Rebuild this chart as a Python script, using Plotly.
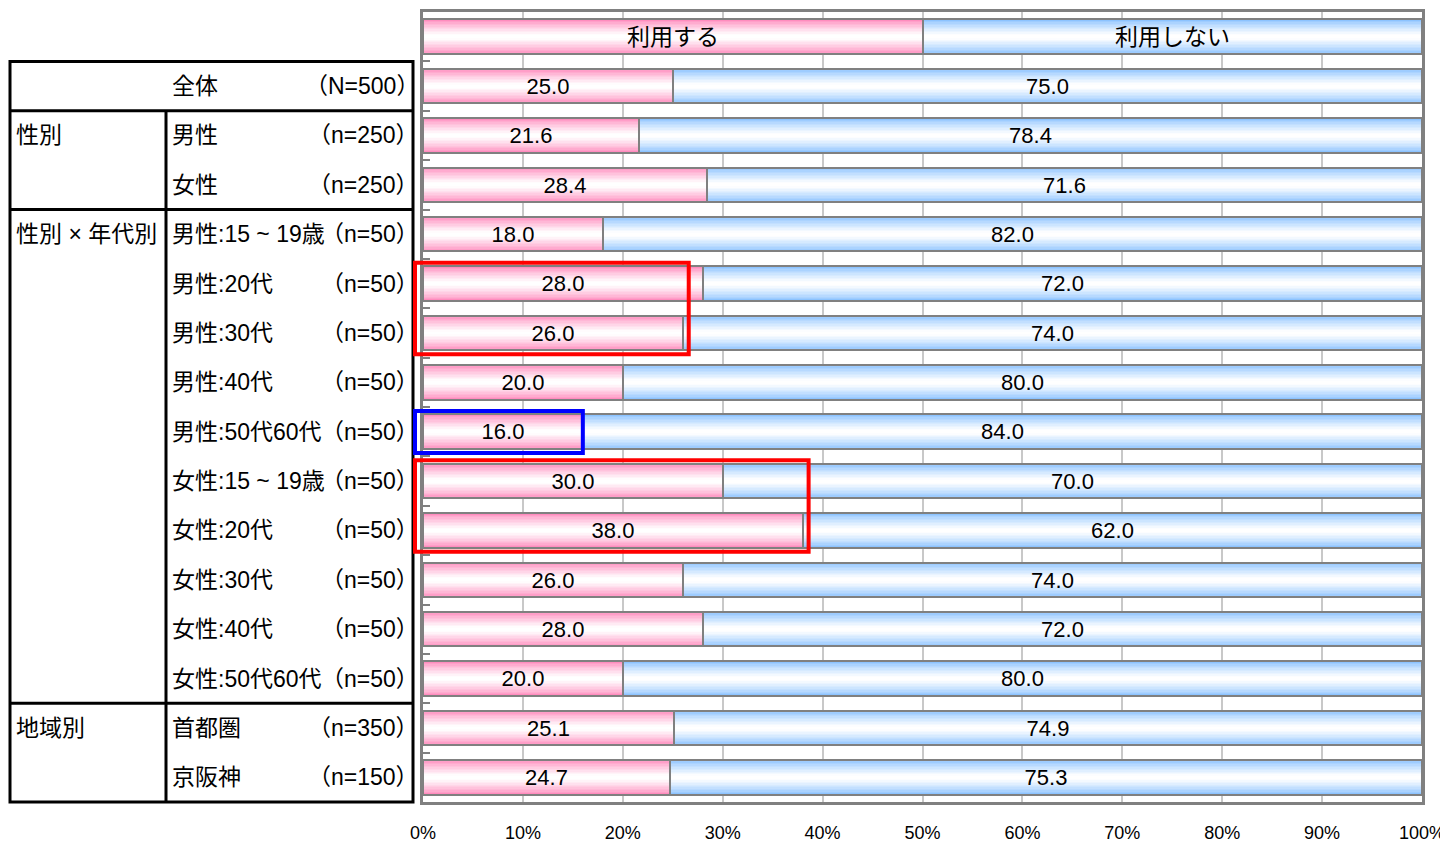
import plotly.graph_objects as go

# ---------------- data ----------------
header_labels = ["利用する", "利用しない"]
header_values = [50, 50]

group_labels = ["", "性別", "", "性別 × 年代別", "", "", "", "", "", "", "", "", "", "地域別", ""]
row_labels = ["全体", "男性", "女性",
              "男性:15 ~ 19歳", "男性:20代", "男性:30代", "男性:40代", "男性:50代60代",
              "女性:15 ~ 19歳", "女性:20代", "女性:30代", "女性:40代", "女性:50代60代",
              "首都圏", "京阪神"]
n_labels = ["（N=500）", "（n=250）", "（n=250）",
            "（n=50）", "（n=50）", "（n=50）", "（n=50）", "（n=50）",
            "（n=50）", "（n=50）", "（n=50）", "（n=50）", "（n=50）",
            "（n=350）", "（n=150）"]
use_vals = [25.0, 21.6, 28.4, 18.0, 28.0, 26.0, 20.0, 16.0, 30.0, 38.0, 26.0, 28.0, 20.0, 25.1, 24.7]
nouse_vals = [75.0, 78.4, 71.6, 82.0, 72.0, 74.0, 80.0, 84.0, 70.0, 62.0, 74.0, 72.0, 80.0, 74.9, 75.3]

# highlight boxes: (first row, last row, right edge in %, colour)
highlights = [("男性:20代", "男性:30代", 26.6, "#ff0000"),
              ("男性:50代60代", "男性:50代60代", 16.0, "#0000ff"),
              ("女性:15 ~ 19歳", "女性:20代", 38.6, "#ff0000")]

# ---------------- layout geometry (screen px, page has 8px body margin) ----------------
OFF = 8
W, H = 1448 - OFF, 844 - OFF
X0, X1 = 423 - OFF, 1422 - OFF
Y0, Y1 = 12 - OFF, 802 - OFF
xdom = [X0 / W, X1 / W]
ydom = [1 - Y1 / H, 1 - Y0 / H]
NROWS = 1 + len(row_labels)

def yp(i):
    return ydom[0] + (NROWS - 0.5 - i) / NROWS * (ydom[1] - ydom[0])

def xp_val(v):
    return xdom[0] + v / 100 * (xdom[1] - xdom[0])

def xpx(px):
    return (px - OFF) / W

FONT = "Liberation Sans, Arial, Noto Sans CJK JP"

use_x = [header_values[0]] + use_vals
nouse_x = [header_values[1]] + nouse_vals
all_y = list(range(NROWS))
use_text = [header_labels[0]] + [f"{v:.1f}" for v in use_vals]
nouse_text = [header_labels[1]] + [f"{v:.1f}" for v in nouse_vals]

fig = go.Figure()

def mix(c, t):
    return "rgb(%d,%d,%d)" % tuple(round(ch + (255 - ch) * t) for ch in c)

BW = 0.70
NL = 12
pink = (255, 140, 190)
blue = (140, 195, 255)

for base_list, xs, col in [(None, use_x, pink), (use_x, nouse_x, blue)]:
    for k in range(NL):
        w = BW * (1 - k / NL)
        t = min(1.0, (k / (NL - 1)) ** 0.8 * 1.05)
        fig.add_trace(go.Bar(
            x=xs, y=all_y, base=base_list, orientation="h", width=w,
            marker=dict(color=mix(col, t), line=dict(width=0)),
            hoverinfo="skip", showlegend=False))

# outline + text layers
for base_list, xs, txt in [(None, use_x, use_text), (use_x, nouse_x, nouse_text)]:
    sizes = [23] + [22] * (NROWS - 1)
    fig.add_trace(go.Bar(
        x=xs, y=all_y, base=base_list, orientation="h", width=BW,
        marker=dict(color="rgba(0,0,0,0)", line=dict(width=2, color="#808080")),
        text=txt, textposition="inside", insidetextanchor="middle",
        textangle=0, constraintext="none",
        textfont=dict(size=sizes, color="black", family=FONT),
        hoverinfo="skip", showlegend=False))

fig.update_layout(
    width=W, height=H, margin=dict(l=0, r=0, t=0, b=0, autoexpand=False),
    paper_bgcolor="white", plot_bgcolor="white",
    barmode="overlay", bargap=0,
    font=dict(family=FONT, color="black"),
    xaxis=dict(domain=xdom, range=[0, 100], dtick=10, tick0=0,
               ticksuffix="%", showgrid=True, gridcolor="#c8c8c8", gridwidth=2,
               zeroline=False, showline=True, mirror=True, linecolor="#808080", linewidth=3,
               ticks="", tickfont=dict(size=18, color="black", family=FONT),
               ticklabelstandoff=12, ticklabeloverflow="allow",
               automargin=False, fixedrange=True),
    yaxis=dict(domain=ydom, range=[NROWS - 0.5, -0.5],
               tickmode="array", tickvals=[i + 0.5 for i in range(NROWS - 1)],
               ticks="inside", ticklen=7, tickwidth=2, tickcolor="#808080",
               showticklabels=False, showgrid=False, zeroline=False,
               showline=True, mirror=True, linecolor="#808080", linewidth=3,
               automargin=False, fixedrange=True),
)

shapes = []
LC = "black"
LW = 3
TL, TR, TM = 10, 413, 166
shapes.append(dict(type="rect", xref="paper", yref="paper",
                   x0=xpx(TL), x1=xpx(TR), y0=yp(NROWS - 0.5), y1=yp(0.5),
                   line=dict(color=LC, width=LW)))
shapes.append(dict(type="line", xref="paper", yref="paper",
                   x0=xpx(TM), x1=xpx(TM), y0=yp(NROWS - 0.5), y1=yp(1.5),
                   line=dict(color=LC, width=LW)))
for i, g in enumerate(group_labels):
    if g and i > 0:
        shapes.append(dict(type="line", xref="paper", yref="paper",
                           x0=xpx(TL), x1=xpx(TR), y0=yp(i + 0.5), y1=yp(i + 0.5),
                           line=dict(color=LC, width=LW)))

for first, last, right, colr in highlights:
    i0 = row_labels.index(first) + 1
    i1 = row_labels.index(last) + 1
    shapes.append(dict(type="rect", xref="paper", yref="paper",
                       x0=xp_val(-0.8), x1=xp_val(right),
                       y0=yp(i1 + 0.43), y1=yp(i0 - 0.42),
                       line=dict(color=colr, width=4), fillcolor="rgba(0,0,0,0)"))

fig.update_layout(shapes=shapes)

ann = []
TS = 23
for i, (g, r, n) in enumerate(zip(group_labels, row_labels, n_labels)):
    yy = yp(i + 1)
    if g:
        ann.append(dict(text=g, xref="paper", yref="paper", x=xpx(14), y=yy,
                        xanchor="left", yanchor="middle", showarrow=False,
                        font=dict(size=TS, family=FONT, color="black")))
    ann.append(dict(text=r, xref="paper", yref="paper", x=xpx(170), y=yy,
                    xanchor="left", yanchor="middle", showarrow=False,
                    font=dict(size=TS, family=FONT, color="black")))
    ann.append(dict(text=n, xref="paper", yref="paper", x=xpx(421), y=yy,
                    xanchor="right", yanchor="middle", showarrow=False,
                    font=dict(size=TS, family=FONT, color="black")))
fig.update_layout(annotations=ann)

fig.write_html("out.html")
